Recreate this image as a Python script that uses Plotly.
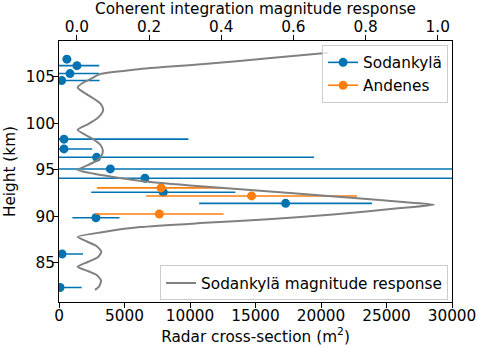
import plotly.graph_objects as go

# Sodankylä radar cross-section estimates
sod_height = [106.9, 106.2, 105.35, 104.6, 98.3, 97.25, 96.35, 95.1, 94.1, 92.6, 91.4, 89.86, 85.96, 82.36]
sod_rcs = [600, 1370, 840, 200, 380, 380, 2870, 3920, 6560, 7960, 17300, 2820, 230, 80]
sod_err = [300, 1700, 2200, 2900, 9500, 2150, 16600, 30000, 30000, 5500, 6600, 1800, 1600, 1650]

# Andenes radar cross-section estimates
and_height = [93.06, 92.2, 90.26]
and_rcs = [7790, 14700, 7660]
and_err = [4900, 8050, 4900]

# Sodankylä coherent integration magnitude response
resp_height = [82.1, 82.5, 83.1, 83.7, 84.1, 84.6, 85.1, 85.6, 86.2, 86.8, 87.3, 87.8,
               88.3, 88.85, 89.28, 89.68, 90.2, 90.89, 91.25, 91.5, 92.0, 92.5, 93.24,
               93.75, 94.24, 94.6, 95.0, 95.5, 96.0, 96.5, 97.1, 97.7, 98.3, 98.8, 99.3,
               99.9, 100.5, 101.0, 101.5, 102.1, 102.7, 103.3, 103.85, 104.39, 104.8,
               105.29, 105.75, 106.07, 106.42, 107.0, 107.6]
resp_mag = [0.050, 0.062, 0.067, 0.055, 0.032, 0.002, 0.030, 0.058, 0.068, 0.055, 0.028, 0.002,
            0.070, 0.175, 0.342, 0.530, 0.710, 0.897, 0.990, 0.920, 0.760, 0.600, 0.342,
            0.190, 0.100, 0.045, 0.002, 0.030, 0.055, 0.068, 0.072, 0.065, 0.045, 0.022, 0.002,
            0.030, 0.055, 0.068, 0.073, 0.066, 0.045, 0.020, 0.002, 0.018, 0.040,
            0.064, 0.156, 0.249, 0.369, 0.530, 0.697]

x_ticks = [0, 5000, 10000, 15000, 20000, 25000, 30000]
x2_ticks = [0.0, 0.2, 0.4, 0.6, 0.8, 1.0]
y_ticks = [85, 90, 95, 100, 105]

BLUE = "#0173B2"
ORANGE = "#FF7F0E"
GRAY = "#808080"
FONT = "DejaVu Sans"
FS = 15.3

fig = go.Figure()

fig.add_trace(go.Scatter(
    x=resp_mag, y=resp_height, xaxis="x2", yaxis="y", mode="lines",
    line=dict(color=GRAY, width=2, shape="spline", smoothing=0.6),
    name="Sodankylä magnitude response", legend="legend2", showlegend=True))

fig.add_trace(go.Scatter(
    x=sod_rcs, y=sod_height, mode="markers",
    marker=dict(color=BLUE, size=9),
    error_x=dict(type="data", array=sod_err, color=BLUE, thickness=1.6, width=0),
    showlegend=False))
fig.add_trace(go.Scatter(
    x=and_rcs, y=and_height, mode="markers",
    marker=dict(color=ORANGE, size=9),
    error_x=dict(type="data", array=and_err, color=ORANGE, thickness=1.6, width=0),
    showlegend=False))

# legend-only entries (marker with a line through it, like an errorbar handle)
fig.add_trace(go.Scatter(x=[None], y=[None], mode="lines+markers", name="Sodankylä",
                         line=dict(color=BLUE, width=1.6), marker=dict(color=BLUE, size=9),
                         legend="legend"))
fig.add_trace(go.Scatter(x=[None], y=[None], mode="lines+markers", name="Andenes",
                         line=dict(color=ORANGE, width=1.6), marker=dict(color=ORANGE, size=9),
                         legend="legend"))

axis_common = dict(showline=True, linecolor="black", linewidth=1, ticks="outside",
                   ticklen=5, tickwidth=1, tickcolor="black", showgrid=False, zeroline=False,
                   automargin=False, tickfont=dict(family=FONT, size=FS, color="black"))

fig.update_layout(
    width=477, height=348,
    margin=dict(l=59, r=25, t=41, b=46),
    paper_bgcolor="white", plot_bgcolor="white",
    font=dict(family=FONT, size=FS, color="black"),
    xaxis=dict(range=[0, 30000], tickvals=x_ticks, ticktext=[str(v) for v in x_ticks],
               ticklabelstandoff=-5,
               title=dict(text="Radar cross-section (m<sup>2</sup>)", standoff=6,
                          font=dict(family=FONT, size=FS)),
               **axis_common),
    xaxis2=dict(range=[-0.0495, 1.0395], overlaying="x", side="top", anchor="y",
                tickvals=x2_ticks, ticktext=[f"{v:.1f}" for v in x2_ticks],
                ticklabelstandoff=-3,
                title=dict(text="Coherent integration magnitude response", standoff=4,
                           font=dict(family=FONT, size=FS)),
                **axis_common),
    yaxis=dict(range=[80.8, 108.85], tickvals=y_ticks, ticktext=[str(v) for v in y_ticks],
               mirror=True, ticklabelstandoff=-5,
               title=dict(text="Height (km)", standoff=6, font=dict(family=FONT, size=FS)),
               **axis_common),
    legend=dict(x=0.99, y=0.985, xanchor="right", yanchor="top",
                bgcolor="rgba(255,255,255,0.8)", bordercolor="#cccccc", borderwidth=1,
                font=dict(family=FONT, size=FS), itemwidth=30, tracegroupgap=0),
    legend2=dict(x=0.99, y=0.006, xanchor="right", yanchor="bottom",
                 bgcolor="rgba(255,255,255,0.8)", bordercolor="#cccccc", borderwidth=1,
                 font=dict(family=FONT, size=FS), itemwidth=30),
)

fig.write_html("out.html", config={"displayModeBar": False},
               post_script="document.body.style.margin='0';")
